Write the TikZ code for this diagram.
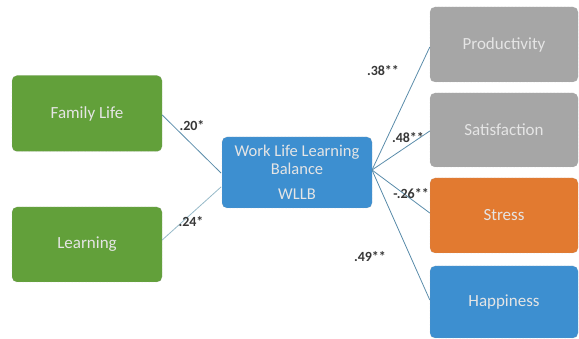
\documentclass[tikz,border=0pt]{standalone}
\usepackage{fontspec}
\setmainfont{Carlito}
\begin{document}
\begin{tikzpicture}[x=1pt,y=-1pt,
  box/.style={draw=gray!70,densely dotted,rounded corners=5pt,text=white!90!black,font=\fontsize{17}{19}\selectfont,align=center,inner sep=0pt},
  green/.style={fill={rgb,255:red,98;green,160;blue,58}},
  blue/.style={fill={rgb,255:red,61;green,143;blue,208}},
  grey/.style={fill={rgb,255:red,166;green,166;blue,166}},
  orange/.style={fill={rgb,255:red,226;green,122;blue,48}},
  link/.style={draw={rgb,255:red,90;green,140;blue,170},line width=0.8pt},
  lbl/.style={font=\bfseries\fontsize{14}{16}\selectfont,text={rgb,255:red,55;green,55;blue,55},inner sep=0pt},
  wlfont/.style={font=\fontsize{16.5}{18}\selectfont}]
\useasboundingbox (0,0) rectangle (579,339);
\node[box,green,minimum width=150,minimum height=76] (fam) at (87,113.5) {Family Life};
\node[box,green,minimum width=150,minimum height=75] (lea) at (87,244.5) {Learning};
\node[box,blue,minimum width=150,minimum height=71,wlfont] (wl) at (297,172.5) {Work Life Learning\\Balance\\[7pt]WLLB};
\node[box,grey,minimum width=148,minimum height=75] (pro) at (504,44.5) {Productivity};
\node[box,grey,minimum width=148,minimum height=74] (sat) at (504,130) {Satisfaction};
\node[box,orange,minimum width=148,minimum height=75] (str) at (504,215.5) {Stress};
\node[box,blue,minimum width=148,minimum height=72] (hap) at (504,302) {Happiness};
\coordinate (wlin1) at (221,173);
\coordinate (wlin2) at (221,187);
\coordinate (wlout) at (372,170);
\draw[link] (fam.east |- 0,115) -- (wlin1);
\draw[link,draw={rgb,255:red,150;green,185;blue,200}] (lea.east |- 0,240) -- (wlin2);
\draw[link] (wlout) -- (pro.west |- 0,47);
\draw[link] (wlout) -- (sat.west |- 0,131);
\draw[link] (wlout) -- (str.west |- 0,213);
\draw[link] (wlout) -- (hap.west |- 0,300);
\node[lbl] (l1) at (192,126) {.20*};
\node[lbl] (l2) at (191,222) {.24*};
\node[lbl] (l3) at (383,71) {.38**};
\node[lbl] (l4) at (408,138) {.48**};
\node[lbl] (l5) at (411,194) {-.26**};
\node[lbl] (l6) at (370,257) {.49**};
\end{tikzpicture}
\end{document}
